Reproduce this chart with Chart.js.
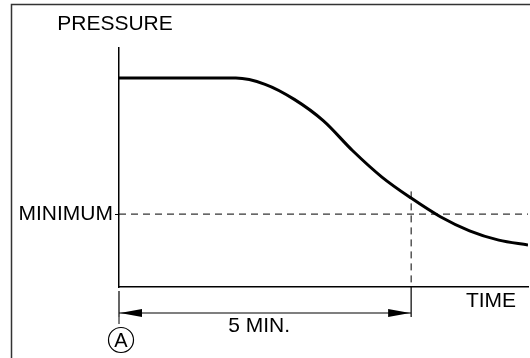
<!DOCTYPE html>
<html>
<head>
<meta charset="utf-8">
<script src="https://cdn.jsdelivr.net/npm/chart.js@4.4.0/dist/chart.umd.min.js"></script>
<style>
html, body { margin: 0; padding: 0; background: #fff; }
#wrap { width: 530px; height: 358px; position: relative; }
</style>
</head>
<body>
<div id="wrap"><canvas id="pressureChart"></canvas></div>
<script>
// pressure drop over time (minutes), arbitrary pressure units 0..100
var timeMin = [0, 1, 2, 2.5, 3, 3.5, 4, 4.5, 5, 5.5, 6, 6.5, 7];
var pressure = [87.4, 87.4, 87.4, 84.8, 78.5, 69.5, 57, 46, 37.2, 29.4, 23.5, 19.6, 17.6];
var minimumLevel = 30.5;
var markTime = 5;
var yTickLabels = ['MINIMUM'];
var labelFont = '21px "Liberation Sans", Arial, sans-serif';

var points = timeMin.map(function (t, i) { return { x: t, y: pressure[i] }; });

function arrowHead(ctx, x, y, dir) {
    ctx.beginPath();
    ctx.moveTo(x, y);
    ctx.lineTo(x - dir * 22, y - 4);
    ctx.lineTo(x - dir * 22, y + 4);
    ctx.closePath();
    ctx.fill();
}

var annotations = {
    id: 'annotations',
    beforeDraw: function (chart) {
        var ctx = chart.ctx;
        ctx.save();
        ctx.strokeStyle = '#333';
        ctx.lineWidth = 1.5;
        ctx.beginPath();
        ctx.moveTo(11.5, 358);
        ctx.lineTo(11.5, 4.5);
        ctx.lineTo(530, 4.5);
        ctx.stroke();
        ctx.restore();
    },
    afterDraw: function (chart) {
        var ctx = chart.ctx;
        var xs = chart.scales.x, ys = chart.scales.y;
        var x0 = xs.getPixelForValue(0);
        var x5 = xs.getPixelForValue(markTime);
        var yMin = ys.getPixelForValue(minimumLevel);
        var yAxis = ys.getPixelForValue(0);
        var yArrow = yAxis + 26;

        ctx.save();
        ctx.strokeStyle = '#000';
        ctx.fillStyle = '#000';
        ctx.lineWidth = 1;

        // dashed guide lines
        ctx.setLineDash([7, 5]);
        ctx.beginPath();
        ctx.moveTo(x0, yMin);
        ctx.lineTo(chart.chartArea.right, yMin);
        ctx.moveTo(x5, ys.getPixelForValue(40));
        ctx.lineTo(x5, yAxis);
        ctx.moveTo(x0, yAxis + 30);
        ctx.lineTo(x0, yAxis + 40);
        ctx.stroke();

        // solid extension marks below the axis
        ctx.setLineDash([]);
        ctx.lineWidth = 1.2;
        ctx.beginPath();
        ctx.moveTo(x0, yAxis + 4);
        ctx.lineTo(x0, yAxis + 30);
        ctx.moveTo(x5, yAxis);
        ctx.lineTo(x5, yAxis + 30);
        ctx.moveTo(x0, yArrow);
        ctx.lineTo(x5, yArrow);
        ctx.stroke();
        arrowHead(ctx, x0 + 1, yArrow, -1);
        arrowHead(ctx, x5 - 1, yArrow, 1);

        // text labels
        ctx.font = labelFont;
        ctx.textAlign = 'center';
        ctx.textBaseline = 'middle';
        ctx.fillText('PRESSURE', 115, 24);
        ctx.fillText('TIME', 491, 301);
        ctx.fillText('5 MIN.', (x0 + x5) / 2 - 6, 326);

        // circled A
        ctx.beginPath();
        ctx.arc(x0 + 2, 340, 12.5, 0, Math.PI * 2);
        ctx.stroke();
        ctx.font = '20px "Liberation Sans", Arial, sans-serif';
        ctx.fillText('A', x0 + 2, 341);
        ctx.restore();
    }
};

var pressureChart = new Chart(document.getElementById('pressureChart'), {
    type: 'line',
    data: {
        datasets: [{
            label: 'PRESSURE',
            data: points,
            borderColor: '#000',
            borderWidth: 3,
            pointRadius: 0,
            fill: false,
            cubicInterpolationMode: 'monotone'
        }]
    },
    options: {
        responsive: true,
        maintainAspectRatio: false,
        animation: false,
        devicePixelRatio: 1,
        layout: { padding: { left: 11, right: 2, top: 48, bottom: 71 } },
        plugins: {
            legend: { display: false },
            tooltip: { enabled: false }
        },
        scales: {
            x: {
                type: 'linear',
                min: 0,
                max: 7,
                ticks: { display: false },
                grid: { display: false, drawTicks: false },
                border: { display: true, color: '#000', width: 1.5 }
            },
            y: {
                min: 0,
                max: 100,
                afterBuildTicks: function (scale) {
                    scale.ticks = [{ value: minimumLevel }];
                },
                afterFit: function (scale) {
                    scale.width = 108;
                },
                ticks: {
                    autoSkip: false,
                    padding: 2,
                    color: '#000',
                    font: { family: '"Liberation Sans", Arial, sans-serif', size: 21 },
                    callback: function (value, index) { return yTickLabels[index]; }
                },
                grid: { drawOnChartArea: false, drawTicks: true, tickLength: 4, color: '#000', lineWidth: 1 },
                border: { display: true, color: '#000', width: 1.5 }
            }
        }
    },
    plugins: [annotations]
});
</script>
</body>
</html>
